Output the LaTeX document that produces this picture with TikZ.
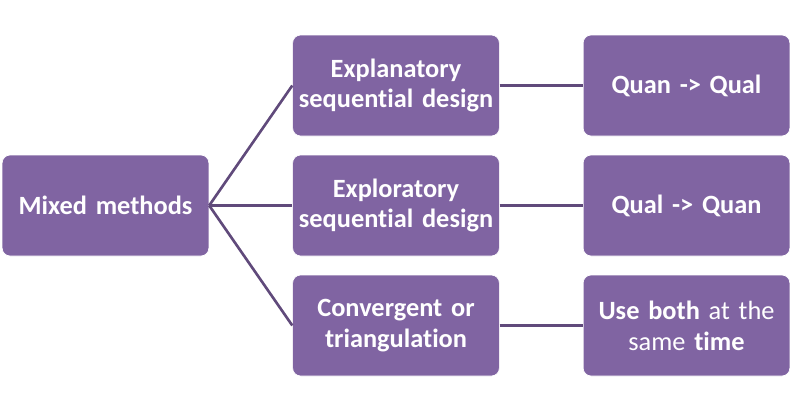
\documentclass[tikz,border=0pt]{standalone}
\usepackage{fontspec}
\setmainfont[Ligatures=NoCommon]{Carlito}
\usepackage{tikz}
\usetikzlibrary{positioning}

\definecolor{boxfill}{HTML}{8064A2}
\definecolor{linkcol}{HTML}{604A7B}

\tikzset{
	box/.style={rectangle, rounded corners=4.5pt, fill=boxfill, draw=white, thin,
		minimum width=4.08cm, minimum height=2.02cm, text width=3.9cm,
		align=center, text=white, font=\fontsize{15}{17.5}\selectfont},
	link/.style={draw=linkcol, line width=1.5pt}
}

\begin{document}
\begin{tikzpicture}
	\useasboundingbox (0,0) rectangle (15.88,-8.22);

	\node[box] (MM) at (2.11,-4.11) {\textbf{Mixed methods}};

	\node[box] (ES) at (7.92,-1.71) {\textbf{Explanatory}\\\textbf{sequential design}};
	\node[box] (XS) at (7.92,-4.11) {\textbf{Exploratory}\\\textbf{sequential design}};
	\node[box] (CT) at (7.92,-6.51) {\textbf{Convergent or}\\\textbf{triangulation}};

	\node[box] (QQ) at (13.73,-1.71) {\textbf{Quan -> Qual}};
	\node[box] (QL) at (13.73,-4.11) {\textbf{Qual -> Quan}};
	\node[box] (UB) at (13.73,-6.51) {\textbf{Use both} at the\\same \textbf{time}};

	\draw[link] (MM.east) -- (ES.west);
	\draw[link] (MM.east) -- (XS.west);
	\draw[link] (MM.east) -- (CT.west);

	\draw[link] (ES) -- (QQ);
	\draw[link] (XS) -- (QL);
	\draw[link] (CT) -- (UB);
\end{tikzpicture}
\end{document}
